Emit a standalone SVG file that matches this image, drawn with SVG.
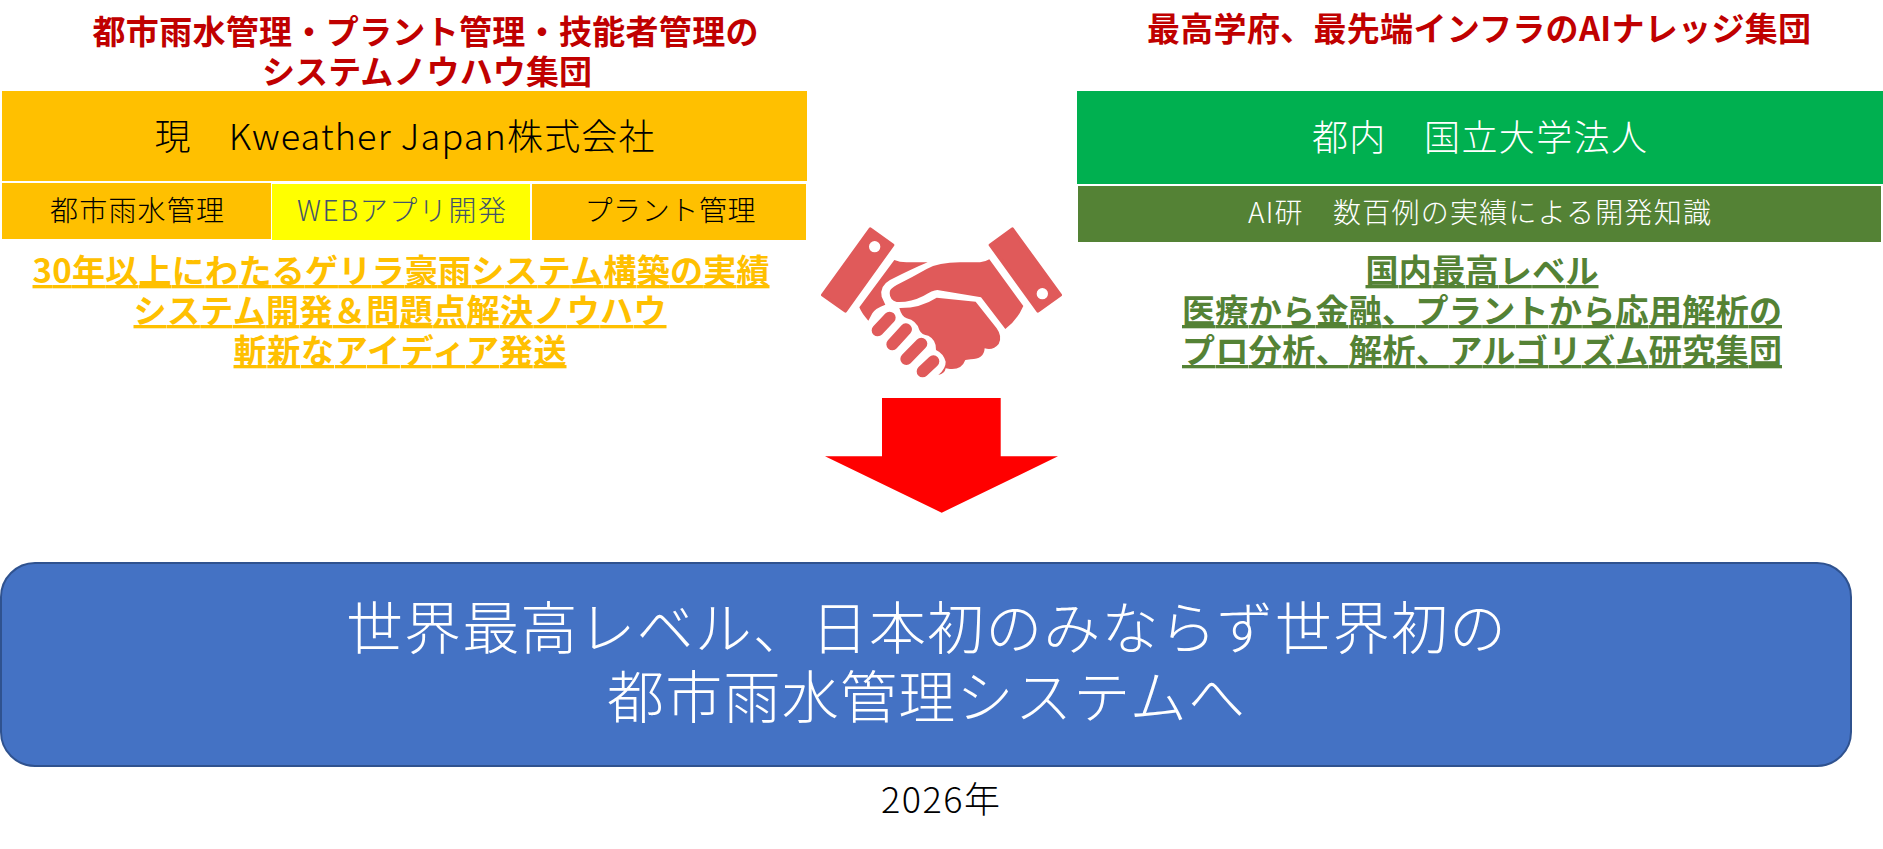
<svg xmlns="http://www.w3.org/2000/svg" width="1883" height="849" viewBox="0 0 1883 849">
<style>
text{font-family:"Noto Sans CJK JP","Noto Sans",sans-serif;text-anchor:middle}
.h{font-size:33px;font-weight:700;fill:#C00000}
.o{font-size:33px;font-weight:700;fill:#FFC000;text-decoration:underline}
.g{font-size:33px;font-weight:700;fill:#548235;text-decoration:underline}
.m{font-size:36px;font-weight:300}
.s{font-size:28px;font-weight:300}
.b{font-size:57px;font-weight:300;fill:#fff}
.hand{fill:#E05A5A}
</style>
<rect width="1883" height="849" fill="#fff"/>
<g id="heading-left">
<text class="h" x="425.500" y="44" textLength="666" lengthAdjust="spacing">都市雨水管理・プラント管理・技能者管理の</text>
<text class="h" x="427" y="84" textLength="330" lengthAdjust="spacing">システムノウハウ集団</text>
</g>
<g id="heading-right">
<text class="h" x="1479" y="41" textLength="664" lengthAdjust="spacing">最高学府、最先端インフラのAIナレッジ集団</text>
</g>
<g id="company">
<rect x="2" y="91" width="805" height="90" fill="#FFC000"/>
<text class="m" x="404.500" y="150" textLength="500" lengthAdjust="spacing" fill="#000">現　Kweather Japan株式会社</text>
</g>
<g id="cell-rain">
<rect x="2" y="183" width="269" height="56" fill="#FFC000"/>
<text class="s" x="137" y="221" textLength="174" lengthAdjust="spacing" fill="#000">都市雨水管理</text>
</g>
<g id="cell-web">
<rect x="272" y="184" width="258" height="56" fill="#FFFF00"/>
<text class="s" x="401.500" y="221" textLength="209" lengthAdjust="spacing" fill="#44546A">WEBアプリ開発</text>
</g>
<g id="cell-plant">
<rect x="532" y="184" width="274" height="56" fill="#FFC000"/>
<text class="s" x="670" y="221" textLength="171" lengthAdjust="spacing" fill="#000">プラント管理</text>
</g>
<g id="notes-left">
<text class="o" x="401" y="283" textLength="737" lengthAdjust="spacing">30年以上にわたるゲリラ豪雨システム構築の実績</text>
<text class="o" x="400" y="323" textLength="533" lengthAdjust="spacing">システム開発＆問題点解決ノウハウ</text>
<text class="o" x="400" y="363" textLength="333" lengthAdjust="spacing">斬新なアイディア発送</text>
</g>
<g id="university">
<rect x="1077" y="91" width="806" height="93" fill="#00B050"/>
<text class="m" x="1479.500" y="151" textLength="335" lengthAdjust="spacing" fill="#fff">都内　国立大学法人</text>
</g>
<g id="ai-lab">
<rect x="1078" y="186" width="803" height="56" fill="#548235"/>
<text class="s" x="1479.500" y="223" textLength="463" lengthAdjust="spacing" fill="#fff">AI研　数百例の実績による開発知識</text>
</g>
<g id="notes-right">
<text class="g" x="1482" y="283" textLength="233" lengthAdjust="spacing">国内最高レベル</text>
<text class="g" x="1482" y="323" textLength="600" lengthAdjust="spacing">医療から金融、プラントから応用解析の</text>
<text class="g" x="1482" y="363" textLength="600" lengthAdjust="spacing">プロ分析、解析、アルゴリズム研究集団</text>
</g>
<g id="handshake" transform="translate(780 200) scale(.33333)">
<path class="hand" stroke="#E05A5A" stroke-width="10" stroke-linejoin="round" d="M271 87L338 135L196 333L128 285Z"/>
<path class="hand" stroke="#E05A5A" stroke-width="10" stroke-linejoin="round" d="M697 87L631 135L774 333L841 285Z"/>
<circle cx="284" cy="140" r="17" fill="#fff"/>
<circle cx="787" cy="281" r="17" fill="#fff"/>
<path class="hand" d="M343 180Q360 188 385 187L443 187Q400 205 330 240Q298 258 305 290L316 314Q285 325 277 340L265 362Q245 340 238 322Z"/>
<path class="hand" d="M628 178L730 318Q712 360 676 387L603 292L472 270Q458 270 430 288Q390 308 350 306Q325 298 330 272Q334 264 350 255Q400 230 440 207Q475 187 540 187L600 187Q615 186 628 178Z"/>
<path class="hand" d="M470 293L587 305L650 385Q668 410 656 432Q640 452 614 445Q612 478 572 478L556 480Q545 510 510 507L497 505Q495 520 475 525Q498 505 497 485Q490 460 468 450Q470 420 445 407Q425 405 418 390Q410 362 380 355Q365 350 358 324Q420 325 470 293Z"/>
<g fill="none" stroke="#E05A5A" stroke-width="36" stroke-linecap="round">
<path d="M293 391L329 353"/>
<path d="M337 433L378 388"/>
<path d="M379 477L424 431"/>
<path d="M428 514L460 484"/>
</g>
</g>
<g id="connectors">
<polygon points="882,398 1000.700,398 1000.700,456.300 1058,456.300 941.700,512.700 825,456.300 882,456.300" fill="#FF0000"/>
</g>
<g id="goal">
<rect x="1" y="563" width="1850" height="203" rx="34" ry="34" fill="#4472C4" stroke="#2F528F" stroke-width="2"/>
<text class="b" x="926" y="649" textLength="1160" lengthAdjust="spacing">世界最高レベル、日本初のみならず世界初の</text>
<text class="b" x="926" y="718" textLength="638" lengthAdjust="spacing">都市雨水管理システムへ</text>
</g>
<g id="year">
<text x="940.500" y="813" font-size="36" font-weight="300" textLength="119" lengthAdjust="spacing" fill="#000">2026年</text>
</g>
</svg>
